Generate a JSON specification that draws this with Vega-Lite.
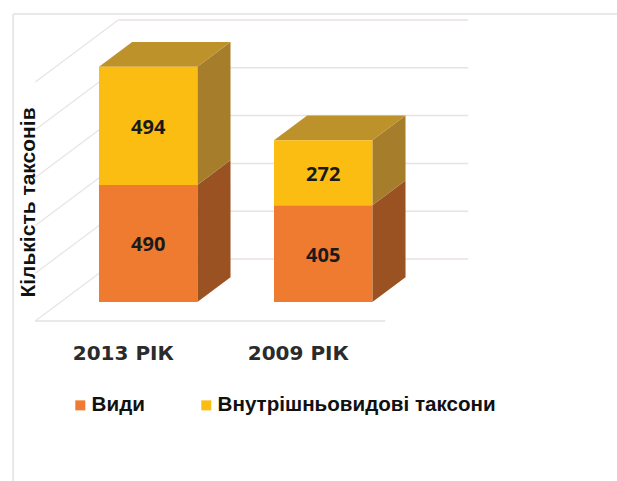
{
"$schema":"https://vega.github.io/schema/vega-lite/v6.json",
"width":617,"height":481,"padding":0,"autosize":{"type":"none"},
"background":"#ffffff",
"config":{"view":{"stroke":null}},
"data":{"values":[
{"year":2013,"type":"Види","value":490},
{"year":2013,"type":"Внутрішньовидові таксони","value":494},
{"year":2009,"type":"Види","value":405},
{"year":2009,"type":"Внутрішньовидові таксони","value":272}
]},
"transform":[
{"stack":"value","groupby":["year"],"sort":[{"field":"type","order":"ascending"}],"as":["v0","v1"]},
{"calculate":"datum.year==2013?0:1","as":"pos"},
{"calculate":"datum.pos+0.145","as":"C"},
{"calculate":"datum.pos+0.145-0.281","as":"L"},
{"calculate":"datum.pos+0.145+0.281","as":"R"},
{"calculate":"datum.v0+79.4","as":"lo"},
{"calculate":"datum.v1+79.4","as":"hi"}
],
"layer":[
{"data":{"values":[{"frame":"top"}]},"mark":{"type":"rule","color":"#e6e1df","strokeWidth":1.5},
 "encoding":{"x":{"datum":-0.627,"type":"quantitative","scale":{"domain":[-0.7017,2.824],"nice":false,"zero":false},
   "axis":{"title":null,"values":[0,1],"labelExpr":"datum.value==0?'2013 РІК':'2009 РІК'","grid":false,"domain":false,"ticks":false,"offset":-143,"labelFont":"DejaVu Sans","labelFontWeight":"bold","labelFontSize":20,"labelColor":"#2b2b2b","labelPadding":5}},
   "x2":{"datum":2.824},
   "y":{"datum":1284.5,"type":"quantitative","scale":{"domain":[-669.5,1343.1],"nice":false,"zero":false},
   "axis":{"title":"Кількість таксонів","labels":false,"grid":false,"domain":false,"ticks":false,"titleX":34,"titleY":202,"titleAngle":-90,"titleBaseline":"alphabetic","titleAlign":"center","titleFont":"Liberation Sans","titleFontWeight":"bold","titleFontSize":21,"titleColor":"#111111"}}}},
{"data":{"values":[{"frame":"left"}]},"mark":{"type":"rule","color":"#e6e1df","strokeWidth":1.5},
 "encoding":{"x":{"datum":-0.627,"type":"quantitative"},"y":{"datum":1284.5,"type":"quantitative"},"y2":{"datum":-669.5}}},
{"data":{"values":[{"tick":0},{"tick":200},{"tick":400},{"tick":600},{"tick":800},{"tick":1000}]},
 "transform":[{"calculate":"-0.026","as":"x"},{"calculate":"1.974","as":"x2"},{"calculate":"datum.tick+259.4","as":"y"}],
 "mark":{"type":"rule","color":"#e9e2df","strokeWidth":1.5},
 "encoding":{"x":{"field":"x","type":"quantitative"},"x2":{"field":"x2"},"y":{"field":"y","type":"quantitative"}}},
{"data":{"values":[{"tick":0},{"tick":200},{"tick":400},{"tick":600},{"tick":800},{"tick":1000}]},
 "transform":[{"calculate":"-0.5","as":"x"},{"calculate":"-0.026","as":"x2"},{"calculate":"datum.tick+259.4","as":"y2"}],
 "mark":{"type":"rule","color":"#e9e4e2","strokeWidth":1.2},
 "encoding":{"x":{"field":"x","type":"quantitative"},"x2":{"field":"x2"},"y":{"field":"tick","type":"quantitative"},"y2":{"field":"y2"}}},
{"data":{"values":[{"tick":0}]},
 "transform":[{"calculate":"-0.5","as":"x"},{"calculate":"1.5","as":"x2"}],
 "mark":{"type":"rule","color":"#e6e1df","strokeWidth":1.5},
 "encoding":{"x":{"field":"x","type":"quantitative"},"x2":{"field":"x2"},"y":{"field":"tick","type":"quantitative"}}},
{"transform":[{"filter":"datum.type=='Види'"},{"calculate":"[0,1]","as":"t"},{"flatten":["t"]},
  {"calculate":"datum.R+datum.t*0.1896","as":"x"},{"calculate":"datum.lo+datum.t*103.8","as":"y"},{"calculate":"datum.hi+datum.t*103.8","as":"y2"}],
 "mark":{"type":"area","color":"#9a5222","orient":"vertical"},
 "encoding":{"x":{"field":"x","type":"quantitative"},"y":{"field":"y","type":"quantitative"},"y2":{"field":"y2"},"detail":{"field":"year"}}},
{"transform":[{"filter":"datum.type!='Види'"},{"calculate":"[0,1]","as":"t"},{"flatten":["t"]},
  {"calculate":"datum.R+datum.t*0.1896","as":"x"},{"calculate":"datum.lo+datum.t*103.8","as":"y"},{"calculate":"datum.hi+datum.t*103.8","as":"y2"}],
 "mark":{"type":"area","color":"#a67e2b","orient":"vertical"},
 "encoding":{"x":{"field":"x","type":"quantitative"},"y":{"field":"y","type":"quantitative"},"y2":{"field":"y2"},"detail":{"field":"year"}}},
{"transform":[{"filter":"datum.type!='Види'"},{"calculate":"[0,1,2,3]","as":"t"},{"flatten":["t"]},
  {"calculate":"datum.t==0?datum.L:datum.t==1?datum.L+0.1896:datum.t==2?datum.R:datum.R+0.1896","as":"x"},
  {"calculate":"datum.hi+(datum.t==0?0:103.8)","as":"y"},
  {"calculate":"datum.hi+(datum.t==3?103.8:0)","as":"y2"}],
 "mark":{"type":"area","color":"#bd922b","orient":"vertical"},
 "encoding":{"x":{"field":"x","type":"quantitative"},"y":{"field":"y","type":"quantitative"},"y2":{"field":"y2"},"detail":{"field":"year"}}},
{"mark":{"type":"rect"},
 "encoding":{"x":{"field":"L","type":"quantitative"},"x2":{"field":"R"},"y":{"field":"lo","type":"quantitative"},"y2":{"field":"hi"},
  "color":{"field":"type","type":"nominal","scale":{"domain":["Види","Внутрішньовидові таксони"],"range":["#ee7b30","#fbbd12"]},
   "legend":{"title":null,"orient":"none","legendX":70,"legendY":395,"direction":"horizontal","columns":2,"columnPadding":51,"symbolType":"square","symbolSize":100,"symbolStrokeWidth":0,"labelOffset":1,"labelLimit":400,"labelFont":"Liberation Sans","labelFontWeight":"bold","labelFontSize":20.6,"labelColor":"#111111"}}}},
{"transform":[{"calculate":"(datum.lo+datum.hi)/2","as":"mid"}],
 "mark":{"type":"text","font":"Open Sans","fontWeight":700,"fontSize":20,"dy":2,"color":"#1a1a1a","align":"center","baseline":"middle"},
 "encoding":{"x":{"field":"C","type":"quantitative"},"y":{"field":"mid","type":"quantitative"},"text":{"field":"value","type":"quantitative"}}}
]
}
